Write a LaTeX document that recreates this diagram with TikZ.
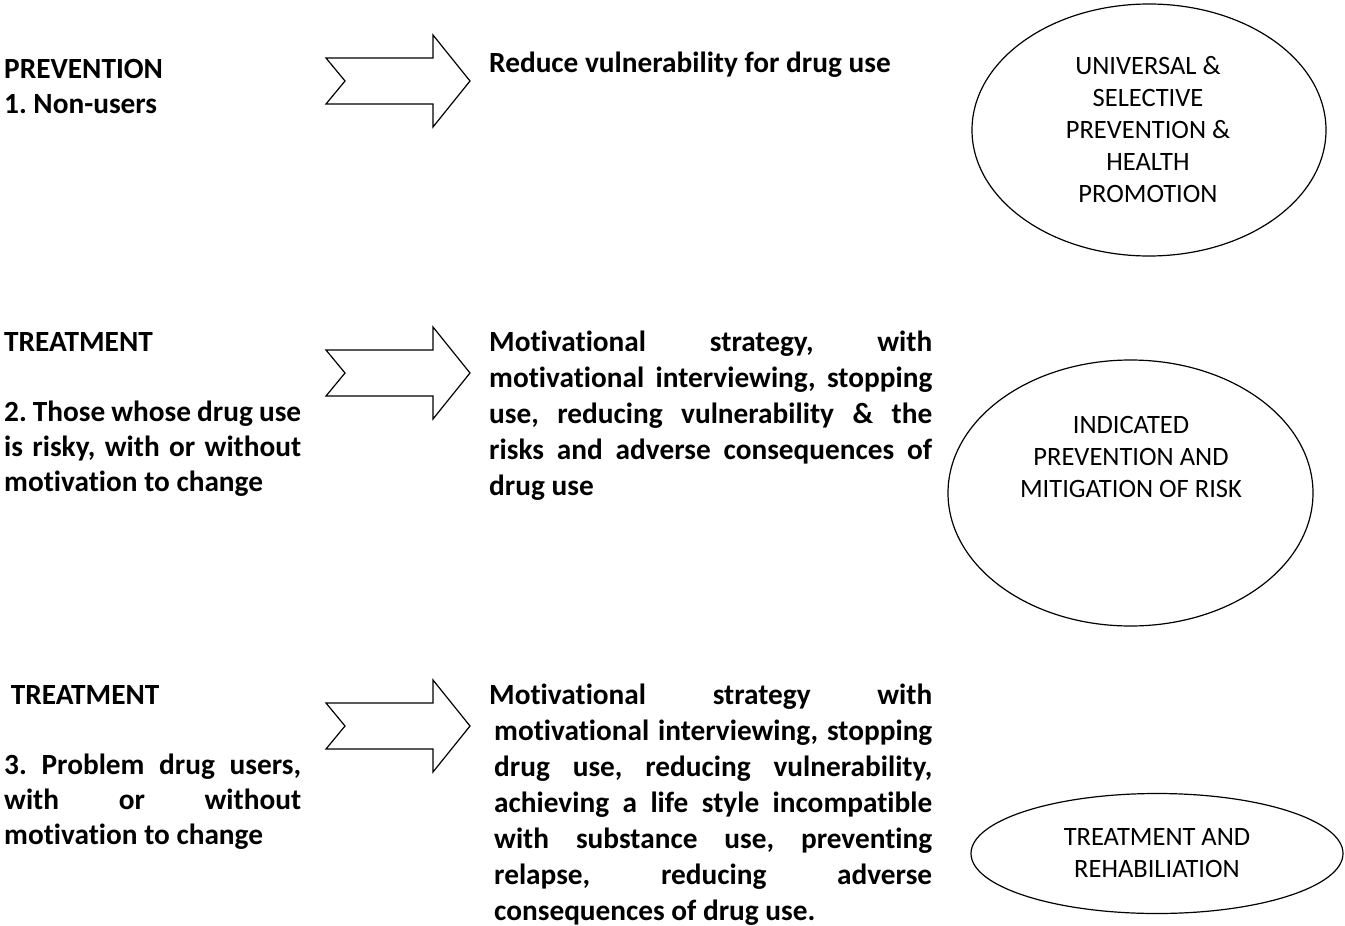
\documentclass[tikz,border=0pt]{standalone}
\usepackage{fontspec}
\setmainfont{Carlito}[Ligatures=NoCommon]
\frenchspacing
\usetikzlibrary{shapes.geometric}
\newcommand\jrow[2]{\hbox{\makebox[#1][s]{#2}}}
\newcommand\jrowi[2]{\hbox{\hskip5pt\makebox[#1][s]{#2}}}
\newcommand\lrow[1]{\hbox{#1}}
\newcommand\txtblock[2]{\vtop{\baselineskip=#1\lineskiplimit=-100pt\lineskip=0pt #2}}
\begin{document}
\begin{tikzpicture}[x=1pt,y=1pt]
\tikzset{
  bodytext/.style={font=\fontsize{29.3}{36}\selectfont\bfseries, inner sep=0pt, anchor=base west},
  ovaltext/.style={font=\fontsize{26.5}{32}\selectfont, align=center, inner sep=0pt},
  oval/.style={draw, line width=1.2pt, ellipse, inner sep=0pt},
  arrowline/.style={draw, line width=1.2pt, line join=miter},
  blockarrow/.pic={\path[arrowline] (0,23)--(107,23)--(107,46)--(144,0)--(107,-46)--(107,-23)--(0,-23)--(19,0)--cycle;}
}
\useasboundingbox[fill=white] (0,0) rectangle (1345,-926);

% left column
\node[bodytext] (l1) at (4,-78) {\txtblock{35pt}{\lrow{PREVENTION}\lrow{1. Non-users}}};
\node[bodytext] (l2) at (4,-351) {\txtblock{35pt}{\lrow{TREATMENT}\lrow{}\jrow{297pt}{2. Those whose drug use}\jrow{297pt}{is risky, with or without}\lrow{motivation to change}}};
\node[bodytext] (l3) at (4,-704) {\txtblock{35pt}{\lrow{\ TREATMENT}\lrow{}\jrow{297pt}{3. Problem drug users,}\jrow{297pt}{with or without}\lrow{motivation to change}}};

% arrows
\pic (a1) at (326,-81) {blockarrow};
\pic (a2) at (326,-373) {blockarrow};
\pic (a3) at (326,-726) {blockarrow};

% middle column
\node[bodytext] (r1) at (489,-72) {Reduce vulnerability for drug use};
\node[bodytext] (r2) at (489,-351) {\txtblock{36pt}{%
  \jrow{443pt}{Motivational strategy, with}%
  \jrow{443pt}{motivational interviewing, stopping}%
  \jrow{443pt}{use, reducing vulnerability \& the}%
  \jrow{443pt}{risks and adverse consequences of}%
  \lrow{drug use}}};
\node[bodytext] (r3) at (489,-704) {\txtblock{36pt}{%
  \jrow{443pt}{Motivational strategy with}%
  \jrowi{438pt}{motivational interviewing, stopping}%
  \jrowi{438pt}{drug use, reducing vulnerability,}%
  \jrowi{438pt}{achieving a life style incompatible}%
  \jrowi{438pt}{with substance use, preventing}%
  \jrowi{438pt}{relapse, reducing adverse}%
  \hbox{\hskip5pt consequences of drug use.}}};

% ovals
\node[oval, minimum width=354pt, minimum height=252pt] (e1) at (1149,-130) {};
\node[ovaltext] (t1) at (1148,-130) {UNIVERSAL \&\\SELECTIVE\\PREVENTION \&\\HEALTH\\PROMOTION};
\node[oval, minimum width=365pt, minimum height=266pt] (e2) at (1130.5,-493) {};
\node[ovaltext] (t2) at (1131,-457) {INDICATED\\PREVENTION AND\\MITIGATION OF RISK};
\node[oval, minimum width=372pt, minimum height=120pt] (e3) at (1157,-853.5) {};
\node[ovaltext] (t3) at (1157,-853) {TREATMENT AND\\REHABILIATION};
\end{tikzpicture}
\end{document}
